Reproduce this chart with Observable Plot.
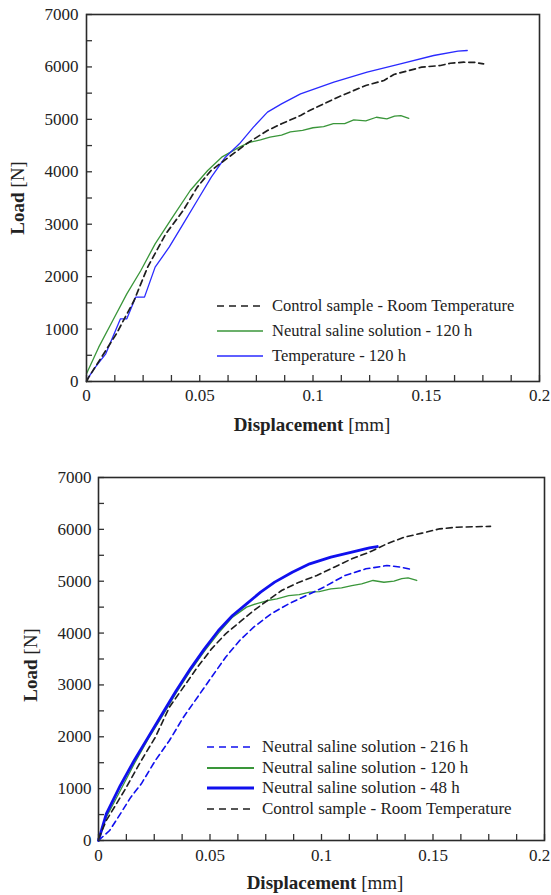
<!DOCTYPE html>
<html>
<head>
<meta charset="utf-8">
<script src="https://cdn.jsdelivr.net/npm/d3@7"></script>
<script src="https://cdn.jsdelivr.net/npm/@observablehq/plot@0.6"></script>
<style>
  html, body { margin: 0; padding: 0; background: #fff; }
  #wrap { position: relative; width: 551px; height: 895px; overflow: hidden; font-family: "Liberation Serif", "Times New Roman", serif; color: #222; }
  .abs { position: absolute; white-space: nowrap; }
  .title { font-size: 19px; transform: translate(-50%, -50%); }
  .title b { font-weight: bold; }
  .rot { transform: translate(-50%, -50%) rotate(-90deg); }
  .leg { display: flex; align-items: center; transform: translateY(-50%); }
  .leg svg { display: block; }
</style>
</head>
<body>
<div id="wrap"></div>
<script>
// ---------- tick values ----------
const xLabelTicks = [0, 0.05, 0.1, 0.15];
const xLastLabel = [0.2];
const yLabelTicks = [0, 1000, 2000, 3000, 4000, 5000, 6000, 7000];
const xMinorTicks = [0, 0.0125, 0.025, 0.0375, 0.05, 0.0625, 0.075, 0.0875, 0.1, 0.1125, 0.125, 0.1375, 0.15, 0.1625, 0.175, 0.1875, 0.2];
const yMinorTicks = [0, 500, 1000, 1500, 2000, 2500, 3000, 3500, 4000, 4500, 5000, 5500, 6000, 6500, 7000];

// ---------- top chart series ----------
const topControlX = [0, 0.001, 0.0132, 0.021, 0.027, 0.035, 0.0427, 0.0489, 0.055, 0.0628, 0.0706, 0.0799, 0.0861, 0.0945, 0.0985, 0.111, 0.1233, 0.1313, 0.1357, 0.148, 0.1563, 0.1606, 0.1666, 0.1715, 0.1753];
const topControlY = [0, 83, 909, 1545, 2181, 2817, 3262, 3707, 4025, 4279, 4533, 4788, 4915, 5074, 5169, 5423, 5646, 5741, 5856, 5996, 6027, 6070, 6090, 6085, 6059];

const topSalineX = [0, 0.0054, 0.0116, 0.0178, 0.024, 0.0303, 0.038, 0.0458, 0.0535, 0.0597, 0.0675, 0.072, 0.0768, 0.081, 0.0861, 0.09, 0.0954, 0.1, 0.1047, 0.109, 0.114, 0.118, 0.1233, 0.128, 0.1326, 0.136, 0.1388, 0.1423];
const topSalineY = [146, 655, 1163, 1672, 2117, 2626, 3134, 3643, 4025, 4279, 4470, 4560, 4610, 4660, 4700, 4760, 4790, 4840, 4860, 4920, 4920, 4990, 4970, 5040, 5010, 5060, 5070, 5020];

const topTempX = [0, 0.0039, 0.0085, 0.0150, 0.0178, 0.0217, 0.0256, 0.0303, 0.0365, 0.0427, 0.0489, 0.0551, 0.0613, 0.0675, 0.0737, 0.0799, 0.0861, 0.0945, 0.1092, 0.1239, 0.1386, 0.1533, 0.1640, 0.1681];
const topTempY = [20, 273, 528, 1195, 1195, 1609, 1609, 2181, 2562, 3007, 3452, 3897, 4279, 4533, 4851, 5137, 5296, 5487, 5709, 5900, 6059, 6218, 6300, 6313];

// ---------- bottom chart series ----------
const bot216X = [0, 0.005, 0.0098, 0.0145, 0.0192, 0.0255, 0.0318, 0.0381, 0.0444, 0.0507, 0.057, 0.0633, 0.0696, 0.0774, 0.0853, 0.0932, 0.101, 0.1105, 0.1199, 0.1264, 0.1293, 0.1356, 0.1406];
const bot216Y = [0, 193, 514, 836, 1093, 1543, 1928, 2378, 2764, 3150, 3535, 3857, 4114, 4371, 4564, 4724, 4885, 5110, 5239, 5280, 5303, 5271, 5225];

const bot120X = [0, 0.0035, 0.0098, 0.016, 0.0223, 0.0286, 0.0349, 0.0412, 0.0475, 0.0538, 0.0601, 0.0664, 0.071, 0.0758, 0.08, 0.0853, 0.09, 0.0947, 0.099, 0.1042, 0.109, 0.1136, 0.118, 0.1231, 0.128, 0.1325, 0.136, 0.1388, 0.1427];
const bot120Y = [0, 450, 964, 1478, 1960, 2400, 2850, 3270, 3650, 4000, 4307, 4500, 4570, 4628, 4660, 4724, 4740, 4789, 4800, 4853, 4870, 4917, 4950, 5014, 4980, 5001, 5050, 5065, 5014];

const bot48X = [0, 0.0035, 0.0098, 0.016, 0.0223, 0.0286, 0.0349, 0.0412, 0.0475, 0.0538, 0.0601, 0.0664, 0.0727, 0.079, 0.0869, 0.0947, 0.1042, 0.1136, 0.1215, 0.125];
const bot48Y = [0, 514, 1061, 1543, 1993, 2443, 2893, 3310, 3696, 4050, 4339, 4564, 4789, 4982, 5174, 5335, 5464, 5560, 5644, 5669];

const botControlX = [0, 0.0035, 0.0121, 0.0192, 0.0255, 0.0318, 0.0381, 0.0444, 0.0507, 0.057, 0.0633, 0.0696, 0.0758, 0.0821, 0.09, 0.0979, 0.1057, 0.1136, 0.1215, 0.1293, 0.1372, 0.1451, 0.153, 0.1608, 0.1758];
const botControlY = [32, 386, 996, 1543, 1993, 2571, 2957, 3343, 3696, 3985, 4210, 4435, 4628, 4821, 4982, 5110, 5271, 5432, 5560, 5721, 5850, 5927, 6010, 6042, 6058];

const topLegend = ["Control sample - Room Temperature", "Neutral saline solution - 120 h", "Temperature - 120 h"];
const botLegend = ["Neutral saline solution - 216 h", "Neutral saline solution - 120 h", "Neutral saline solution - 48 h", "Control sample - Room Temperature"];

const zip = (xs, ys) => xs.map((x, i) => ({x, y: ys[i]}));

const C_BLACK = "#1e1e1e", C_GREEN = "#3a963a", C_BLUE = "#2a2aff", C_BLUE2 = "#1010ee";

function makeChart(cfg) {
  const plotW = cfg.width - cfg.marginLeft - cfg.marginRight;
  const plotH = cfg.height - cfg.marginTop - cfg.marginBottom;
  return Plot.plot({
    width: cfg.width, height: cfg.height,
    marginTop: cfg.marginTop, marginBottom: cfg.marginBottom,
    marginLeft: cfg.marginLeft, marginRight: cfg.marginRight,
    x: {domain: [0, 0.2]},
    y: {domain: [0, 7000]},
    style: {fontFamily: '"Liberation Serif", "Times New Roman", serif', fontSize: "17px", color: "#222", background: "transparent", overflow: "visible"},
    marks: [
      Plot.axisX(xLabelTicks, {tickSize: 0, tickPadding: cfg.xPad, tickFormat: d => String(d), label: null, fontSize: 17}),
      Plot.axisX(xLastLabel, {tickSize: 0, tickPadding: cfg.xPad, tickFormat: d => String(d), label: null, fontSize: 17, dx: cfg.lastDx}),
      Plot.axisY(yLabelTicks, {tickSize: 0, tickPadding: cfg.yPad, tickFormat: d => String(d), label: null, fontSize: 17}),
      Plot.tickX(xMinorTicks, {x: d => d, insetTop: plotH - 6, stroke: "#333", strokeWidth: 1.3}),
      Plot.tickY(yMinorTicks, {y: d => d, insetRight: plotW - 6, stroke: "#333", strokeWidth: 1.3}),
      ...cfg.series.map(s => Plot.line(s.data, {x: "x", y: "y", stroke: s.color, strokeWidth: s.width, strokeDasharray: s.dash, strokeLinejoin: "round"})),
      Plot.frame({stroke: "#2a2a2a", strokeWidth: 1.6})
    ]
  });
}

const wrap = document.getElementById("wrap");

const topSeries = [
  {data: zip(topSalineX, topSalineY), color: C_GREEN, width: 1.3, dash: null},
  {data: zip(topTempX, topTempY), color: C_BLUE, width: 1.3, dash: null},
  {data: zip(topControlX, topControlY), color: C_BLACK, width: 1.7, dash: "6,4"}
];
const chartTop = makeChart({width: 551, height: 445, marginTop: 14, marginBottom: 64, marginLeft: 86, marginRight: 12, xPad: 7, yPad: 8, lastDx: 0, series: topSeries});
chartTop.style.position = "absolute"; chartTop.style.left = "0px"; chartTop.style.top = "0px";
wrap.appendChild(chartTop);

const botSeries = [
  {data: zip(bot120X, bot120Y), color: C_GREEN, width: 1.3, dash: null},
  {data: zip(bot216X, bot216Y), color: C_BLUE2, width: 1.6, dash: "6,4"},
  {data: zip(bot48X, bot48Y), color: C_BLUE2, width: 2.8, dash: null},
  {data: zip(botControlX, botControlY), color: C_BLACK, width: 1.6, dash: "6,4"}
];
const chartBot = makeChart({width: 551, height: 450, marginTop: 32, marginBottom: 55, marginLeft: 98, marginRight: 7, xPad: 8, yPad: 7, lastDx: -5, series: botSeries});
chartBot.style.position = "absolute"; chartBot.style.left = "0px"; chartBot.style.top = "445px";
wrap.appendChild(chartBot);

// ---------- axis titles ----------
function addTitle(html, x, y, rotate) {
  const d = document.createElement("div");
  d.className = "abs title" + (rotate ? " rot" : "");
  d.style.left = x + "px"; d.style.top = y + "px";
  d.innerHTML = html;
  wrap.appendChild(d);
}
addTitle("<b>Load</b> [N]", 18, 198, true);
addTitle("<b>Displacement</b> [mm]", 312, 425, false);
addTitle("<b>Load</b> [N]", 31, 665, true);
addTitle("<b>Displacement</b> [mm]", 325, 883, false);

// ---------- legends ----------
function addLegend(items, x, y0, dy, swW, gap, fs) {
  items.forEach((it, i) => {
    const d = document.createElement("div");
    d.className = "abs leg";
    d.style.left = x + "px"; d.style.top = (y0 + i * dy) + "px";
    d.style.fontSize = fs + "px";
    d.innerHTML = `<svg width="${swW}" height="6"><line x1="0" x2="${swW}" y1="3" y2="3" stroke="${it.color}" stroke-width="${it.width}" ${it.dash ? `stroke-dasharray="${it.dash}"` : ""}/></svg><span style="margin-left:${gap}px">${it.label}</span>`;
    wrap.appendChild(d);
  });
}
addLegend([
  {label: topLegend[0], color: C_BLACK, width: 1.6, dash: "7,5"},
  {label: topLegend[1], color: C_GREEN, width: 1.3, dash: null},
  {label: topLegend[2], color: C_BLUE, width: 1.3, dash: null}
], 217, 306, 25, 46, 9, 16.5);
addLegend([
  {label: botLegend[0], color: C_BLUE2, width: 1.6, dash: "7,5"},
  {label: botLegend[1], color: C_GREEN, width: 2, dash: null},
  {label: botLegend[2], color: C_BLUE2, width: 3, dash: null},
  {label: botLegend[3], color: C_BLACK, width: 1.6, dash: "7,5"}
], 207, 747, 20.6, 47, 8, 17);
</script>
</body>
</html>
